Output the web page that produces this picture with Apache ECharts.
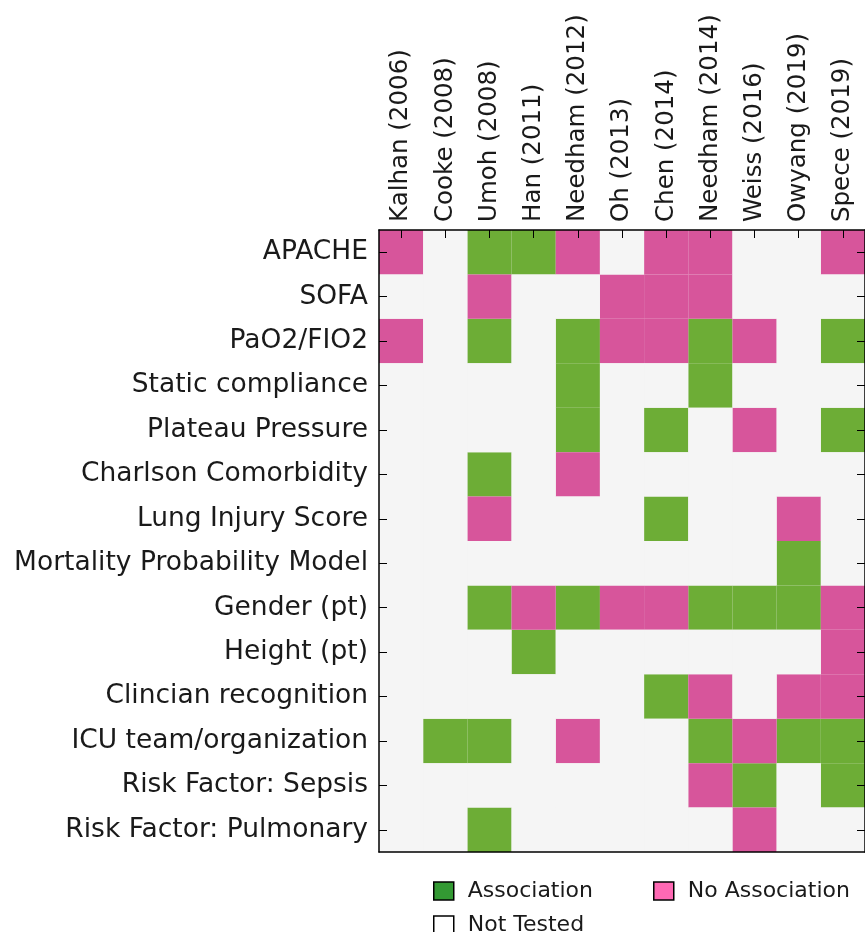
<!DOCTYPE html>
<html>
<head>
<meta charset="utf-8">
<style>
  html, body { margin: 0; padding: 0; background: #ffffff; }
  #chart { width: 865px; height: 932px; }
</style>
<script src="https://cdn.jsdelivr.net/npm/echarts@6/dist/echarts.min.js"></script>
</head>
<body>
<div id="chart"></div>
<script>
// Studies (columns) and predictors (rows)
const studies = ['Kalhan (2006)', 'Cooke (2008)', 'Umoh (2008)', 'Han (2011)', 'Needham (2012)',
  'Oh (2013)', 'Chen (2014)', 'Needham (2014)', 'Weiss (2016)', 'Owyang (2019)', 'Spece (2019)'];
const predictors = ['APACHE', 'SOFA', 'PaO2/FIO2', 'Static compliance', 'Plateau Pressure',
  'Charlson Comorbidity', 'Lung Injury Score', 'Mortality Probability Model', 'Gender (pt)',
  'Height (pt)', 'Clincian recognition', 'ICU team/organization', 'Risk Factor: Sepsis',
  'Risk Factor: Pulmonary'];

// Result per study: 1 = association, 2 = no association, 0 = not tested
const apache           = [2, 0, 1, 1, 2, 0, 2, 2, 0, 0, 2];
const sofa             = [0, 0, 2, 0, 0, 2, 2, 2, 0, 0, 0];
const pao2Fio2         = [2, 0, 1, 0, 1, 2, 2, 1, 2, 0, 1];
const staticCompliance = [0, 0, 0, 0, 1, 0, 0, 1, 0, 0, 0];
const plateauPressure  = [0, 0, 0, 0, 1, 0, 1, 0, 2, 0, 1];
const charlson         = [0, 0, 1, 0, 2, 0, 0, 0, 0, 0, 0];
const lungInjuryScore  = [0, 0, 2, 0, 0, 0, 1, 0, 0, 2, 0];
const mortalityModel   = [0, 0, 0, 0, 0, 0, 0, 0, 0, 1, 0];
const gender           = [0, 0, 1, 2, 1, 2, 2, 1, 1, 1, 2];
const height           = [0, 0, 0, 1, 0, 0, 0, 0, 0, 0, 2];
const clinician        = [0, 0, 0, 0, 0, 0, 1, 2, 0, 2, 2];
const icuTeam          = [0, 1, 1, 0, 2, 0, 0, 1, 2, 1, 1];
const sepsis           = [0, 0, 0, 0, 0, 0, 0, 2, 1, 0, 1];
const pulmonary        = [0, 0, 1, 0, 0, 0, 0, 0, 2, 0, 0];

const resultRows = [apache, sofa, pao2Fio2, staticCompliance, plateauPressure, charlson,
  lungInjuryScore, mortalityModel, gender, height, clinician, icuTeam, sepsis, pulmonary];

const outcomes = [
  { code: 1, name: 'Association',    cell: '#6dad36', swatch: '#339933' },
  { code: 2, name: 'No Association', cell: '#d7559b', swatch: '#ff69b4' },
  { code: 0, name: 'Not Tested',     cell: '#f5f5f5', swatch: '#ffffff' }
];

function cellsFor(code) {
  const out = [];
  resultRows.forEach((row, r) => row.forEach((v, c) => { if (v === code) out.push([c, r]); }));
  return out;
}

const FONT = 'DejaVu Sans';
const INK = '#1a1a1a';

const chart = echarts.init(document.getElementById('chart'));

const series = outcomes.map(o => ({
  name: o.name,
  type: 'custom',
  xAxisIndex: 0,
  yAxisIndex: 0,
  itemStyle: { color: o.cell },
  data: cellsFor(o.code),
  renderItem: function (params, api) {
    const p = api.coord([api.value(0), api.value(1)]);
    const s = api.size([1, 1]);
    return {
      type: 'rect',
      shape: { x: p[0] - s[0] / 2, y: p[1] - s[1] / 2, width: s[0], height: s[1] },
      style: { fill: o.cell }
    };
  }
}));

const swatch = name => {
  const o = outcomes.find(x => x.name === name);
  return { name: name, itemStyle: { color: o.swatch, borderColor: '#000', borderWidth: 1.5 } };
};

const legendBase = {
  orient: 'horizontal',
  icon: 'rect',
  itemWidth: 20,
  itemHeight: 18,
  selectedMode: false,
  textStyle: { fontFamily: FONT, fontSize: 22, color: INK, padding: [0, 0, 0, 9] }
};

chart.setOption({
  animation: false,
  backgroundColor: '#ffffff',
  // plot background matches the "not tested" fill so cell seams stay invisible
  grid: { left: 379, top: 230, width: 487, height: 622, show: true,
          backgroundColor: '#f5f5f5', borderWidth: 0 },
  legend: [
    Object.assign({}, legendBase, { left: 428, top: 875, itemGap: 60,
      data: [swatch('Association'), swatch('No Association')] }),
    Object.assign({}, legendBase, { left: 428, top: 909,
      data: [swatch('Not Tested')] })
  ],
  xAxis: [
    {
      type: 'category', position: 'top', data: studies, z: 10,
      axisLine: { show: true, lineStyle: { color: '#000', width: 1.5 } },
      axisTick: { show: true, inside: true, alignWithLabel: true, length: 8, lineStyle: { color: '#000' } },
      axisLabel: { rotate: -90, margin: 8, fontFamily: FONT, fontSize: 24.5, color: INK, interval: 0 },
      splitLine: { show: false }
    },
    {
      type: 'category', position: 'bottom', data: studies, z: 10,
      axisLine: { show: true, lineStyle: { color: '#000', width: 1.5 } },
      axisTick: { show: false }, axisLabel: { show: false }, splitLine: { show: false }
    }
  ],
  yAxis: [
    {
      type: 'category', position: 'left', inverse: true, data: predictors, z: 10,
      axisLine: { show: true, lineStyle: { color: '#000', width: 1.5 } },
      axisTick: { show: true, inside: true, alignWithLabel: true, length: 8, lineStyle: { color: '#000' } },
      axisLabel: { margin: 11, fontFamily: FONT, fontSize: 26.5, color: INK, interval: 0 },
      splitLine: { show: false }
    },
    {
      type: 'category', position: 'right', inverse: true, data: predictors, z: 10,
      axisLine: { show: true, lineStyle: { color: '#000', width: 1.5 } },
      axisTick: { show: true, inside: true, alignWithLabel: true, length: 8, lineStyle: { color: '#000' } },
      axisLabel: { show: false }, splitLine: { show: false }
    }
  ],
  series: series
});
</script>
</body>
</html>
